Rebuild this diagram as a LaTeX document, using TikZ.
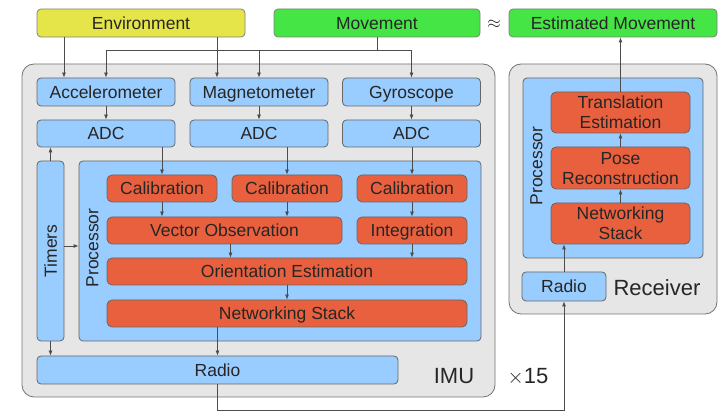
\documentclass[tikz,border=0pt]{standalone}
\usepackage{fontspec}
\setmainfont{Liberation Sans}
\usetikzlibrary{arrows.meta}
\definecolor{devgray}{HTML}{E6E6E6}
\definecolor{hwblue}{HTML}{99CCFF}
\definecolor{swred}{HTML}{E9603E}
\definecolor{envyellow}{HTML}{E5E54A}
\definecolor{movgreen}{HTML}{44E544}

\begin{document}
\begin{tikzpicture}[x=1pt, y=-1pt, line width=0.8pt,
  every node/.style={font=\fontsize{17.5}{20}\selectfont, text=black!85, inner sep=0pt,
    text height=12.5pt, text depth=0pt},
  device/.style={draw=black!55, fill=devgray, rounded corners=12pt},
  unit/.style={draw=black!60, fill=hwblue, rounded corners=4pt, minimum height=27pt},
  task/.style={draw=black!60, fill=swred, rounded corners=5pt, minimum height=27pt},
  twoline/.style={align=center, text height=32.5pt, minimum width=139pt},
  world/.style={draw=black!50, rounded corners=4pt, minimum height=28pt},
  biglabel/.style={font=\fontsize{22}{24}\selectfont, text height=15.7pt},
  sig/.style={draw=black!70, -{Latex[length=5pt,width=4pt]}}]
  \useasboundingbox (0,0) rectangle (721,411);
  \node[world, fill=envyellow, minimum width=208pt] (Env) at (141,23) {Environment};
  \node[world, fill=movgreen, minimum width=206pt] (Mov) at (377,23) {Movement};
  \node (Approx) at (494,22) {$\approx$};
  \node[world, fill=movgreen, minimum width=208pt] (Est) at (613,23) {Estimated Movement};
  \node[device, minimum width=473pt, minimum height=333pt] (IMU) at (258.5,230.5) {};
  \node[device, minimum width=208pt, minimum height=250pt] (Rec) at (613,189) {};
  \node[biglabel] (IMUlbl) at (454,376) {IMU};
  \node[biglabel] (Times) at (528,376) {$\times$15};
  \node[biglabel] (Reclbl) at (657,288) {Receiver};
  \node[unit, minimum width=138pt, minimum height=28pt] (Acc) at (106,92) {Accelerometer};
  \node[unit, minimum width=138pt, minimum height=28pt] (Mag) at (259,92) {Magnetometer};
  \node[unit, minimum width=138pt, minimum height=28pt] (Gyr) at (411.5,92) {Gyroscope};
  \node[unit, minimum width=138pt] (ADC1) at (106,133.5) {ADC};
  \node[unit, minimum width=138pt] (ADC2) at (259,133.5) {ADC};
  \node[unit, minimum width=138pt] (ADC3) at (411.5,133.5) {ADC};
  \node[unit, minimum width=27pt, minimum height=180pt] (Tim) at (50.5,251) {};
  \node[rotate=90] at (Tim) {Timers};
  \node[unit, minimum width=402pt, minimum height=180pt] (Proc) at (280,251) {};
  \node[rotate=90] (Proclbl) at (92,248) {Processor};
  \node[task, minimum width=110pt] (Cal1) at (162,188.5) {Calibration};
  \node[task, minimum width=110pt] (Cal2) at (287,188.5) {Calibration};
  \node[task, minimum width=110pt] (Cal3) at (412,188.5) {Calibration};
  \node[task, minimum width=235pt] (Vec) at (224.5,230.5) {Vector Observation};
  \node[task, minimum width=110pt] (Int) at (412,230.5) {Integration};
  \node[task, minimum width=360pt] (Ori) at (287,271.5) {Orientation Estimation};
  \node[task, minimum width=360pt] (Net) at (287,313.5) {Networking Stack};
  \node[unit, minimum width=361pt, minimum height=28pt] (Radio) at (217.5,370) {Radio};
  \node[unit, minimum width=180pt, minimum height=180pt] (RProc) at (613,168) {};
  \node[rotate=90] (RProclbl) at (536,166) {Processor};
  \node[task, twoline, minimum height=41pt] (Trans) at (620.5,112.5) {Translation\\Estimation};
  \node[task, twoline, minimum height=42pt] (Pose) at (620.5,168) {Pose\\Reconstruction};
  \node[task, twoline, minimum height=41pt] (RNet) at (620.5,223.5) {Networking\\Stack};
  \node[unit, minimum width=84pt, minimum height=29pt] (RRadio) at (564,286.5) {Radio};
  \coordinate (Bus) at (0,50);
  \coordinate (Air) at (0,410);
  \draw[sig] ([xshift=-42pt]Acc.north |- Env.south) -- ([xshift=-42pt]Acc.north);
  \draw[sig] ([xshift=-42pt]Mag.north |- Env.south) -- ([xshift=-42pt]Mag.north);
  \draw[draw=black!70] (Mov.south) -- (Mov.south |- Bus);
  \draw[draw=black!70] (Acc.north |- Bus) -- (Gyr.north |- Bus);
  \draw[sig] (Acc.north |- Bus) -- (Acc.north);
  \draw[sig] (Mag.north |- Bus) -- (Mag.north);
  \draw[sig] (Gyr.north |- Bus) -- (Gyr.north);
  \draw[sig] (Acc) -- (ADC1);
  \draw[sig] (Mag) -- (ADC2);
  \draw[sig] (Gyr) -- (ADC3);
  \draw[sig] (Tim.north) -- (Tim.north |- ADC1.south);
  \draw[sig] ([yshift=5pt]Tim.east) -- ([yshift=5pt]Tim.east -| Proc.west);
  \draw[sig] (Tim.south) -- (Tim.south |- Radio.north);
  \draw[sig] (Cal1.north |- ADC1.south) -- (Cal1.north);
  \draw[sig] (Cal2.north |- ADC2.south) -- (Cal2.north);
  \draw[sig] (Cal3.north |- ADC3.south) -- (Cal3.north);
  \draw[sig] (Cal1.south) -- (Cal1.south |- Vec.north);
  \draw[sig] (Cal2.south) -- (Cal2.south |- Vec.north);
  \draw[sig] (Cal3) -- (Int);
  \draw[sig] ([xshift=6pt]Vec.south) -- ([xshift=6pt]Vec.south |- Ori.north);
  \draw[sig] (Int.south) -- (Int.south |- Ori.north);
  \draw[sig] (Ori) -- (Net);
  \draw[sig] (Radio.north |- Net.south) -- (Radio.north);
  \draw[sig] (Radio.south) -- (Radio.south |- Air) -- (RRadio.south |- Air) -- (RRadio.south);
  \draw[sig] (RRadio.north) -- (RRadio.north |- RNet.south);
  \draw[sig] (RNet) -- (Pose);
  \draw[sig] (Pose) -- (Trans);
  \draw[sig] (Trans.north) -- (Trans.north |- Est.south);
\end{tikzpicture}
\end{document}
